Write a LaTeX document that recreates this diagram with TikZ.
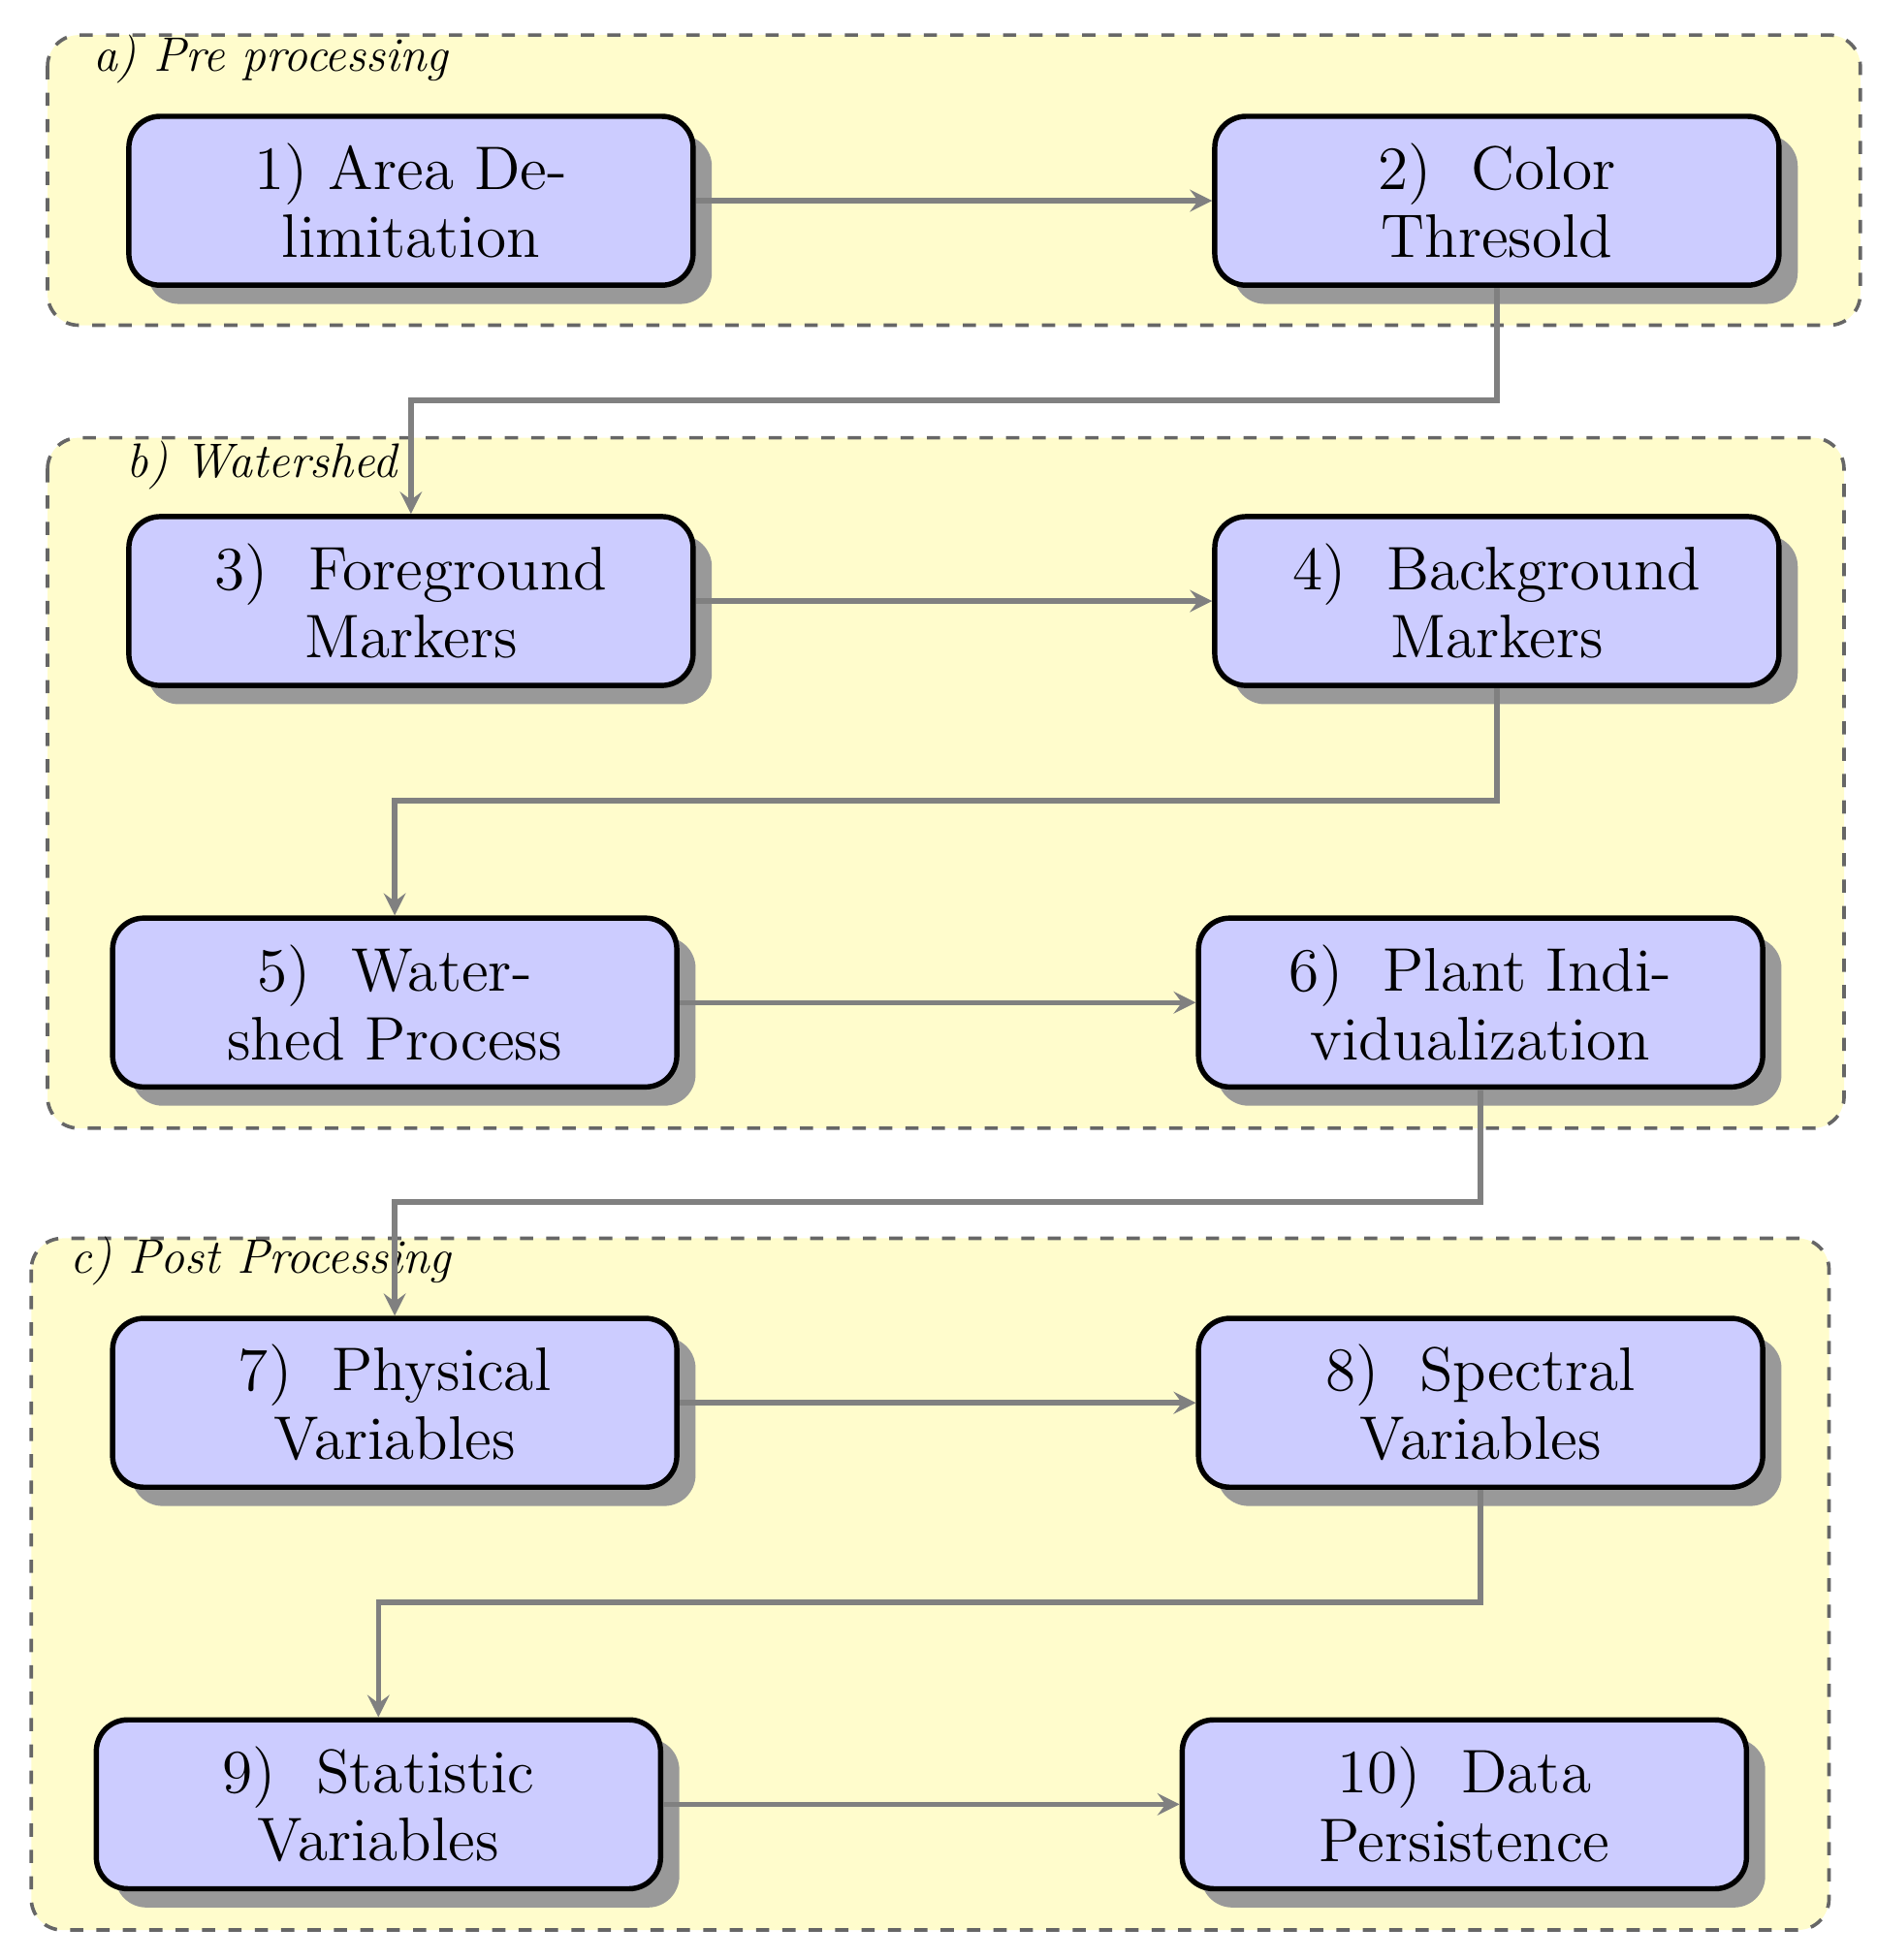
\documentclass[tikz,border=0pt]{standalone}
\usetikzlibrary{positioning, arrows, shadows}
\begin{document}
\begin{tikzpicture}
    [stage/.style={draw, very thick, rounded corners=.25cm, fill=blue!20,
        minimum width=4.51cm, minimum height=1.35cm, align=center,
        font=\fontsize{14}{15.6}\selectfont,
        drop shadow={shadow xshift=.15cm, shadow yshift=-.15cm, fill=black!40, opacity=1}},
     group/.style={draw=black!60, dashed, thick, rounded corners=.25cm, fill=yellow!20},
     glabel/.style={anchor=west, font=\fontsize{11}{12}\selectfont\itshape},
     arr/.style={draw=black!50, very thick, >=stealth, ->},
    ]
    \useasboundingbox (0,0) rectangle (15,-15.67);

    % groups
    \draw [group] (0.38,-0.28) rectangle (14.87,-2.60);
    \draw [group] (0.38,-3.50) rectangle (14.74,-9.02);
    \draw [group] (0.25,-9.90) rectangle (14.62,-15.43);
    \node [glabel] (ga) at (0.62,-0.47) {a) Pre processing};
    \node [glabel] (gb) at (0.89,-3.72) {b) Watershed};
    \node [glabel] (gc) at (0.44,-10.08) {c) Post Processing};

    % stages
    \node [stage] (area) at (3.285,-1.605) {1)\ Area De-\\limitation};
    \node [stage] (color) at (11.965,-1.605) {2)\ \ Color\\Thresold};
    \node [stage] (fore) at (3.285,-4.805) {3)\ \ Foreground\\Markers};
    \node [stage] (back) at (11.965,-4.805) {4)\ \ Background\\Markers};
    \node [stage] (water) at (3.155,-8.015) {5)\ \ Water-\\shed Process};
    \node [stage] (plant) at (11.835,-8.015) {6)\ \ Plant Indi-\\vidualization};
    \node [stage] (phys) at (3.155,-11.215) {7)\ \ Physical\\Variables};
    \node [stage] (spec) at (11.835,-11.215) {8)\ \ Spectral\\Variables};
    \node [stage] (stat) at (3.025,-14.425) {9)\ \ Statistic\\Variables};
    \node [stage] (data) at (11.705,-14.425) {10)\ \ Data\\Persistence};

    % flow
    \draw [arr] (area) -- (color);
    \draw [arr] (color.south) -- ++(0,-0.9) -| (fore.north);
    \draw [arr] (fore) -- (back);
    \draw [arr] (back.south) -- ++(0,-0.9) -| (water.north);
    \draw [arr] (water) -- (plant);
    \draw [arr] (plant.south) -- ++(0,-0.9) -| (phys.north);
    \draw [arr] (phys) -- (spec);
    \draw [arr] (spec.south) -- ++(0,-0.9) -| (stat.north);
    \draw [arr] (stat) -- (data);
\end{tikzpicture}
\end{document}
